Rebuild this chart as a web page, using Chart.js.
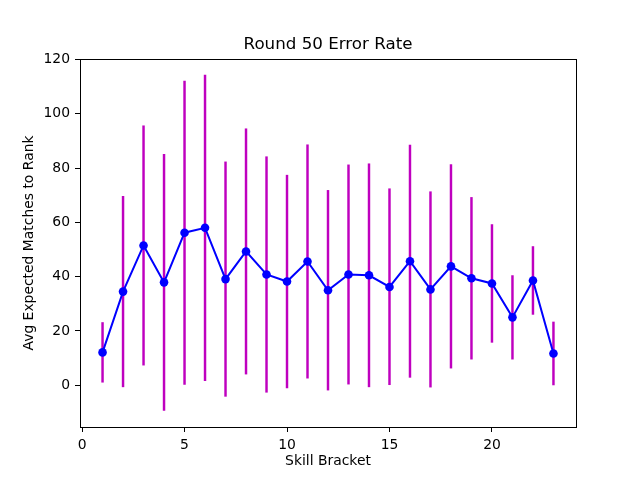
<!DOCTYPE html>
<html>
	<head>
		<meta charset="UTF-8" />
		<title>Round 50 Error Rate</title>
		<style type="text/css">
			body {
				margin: 0;
				background: #ffffff;
			}
			.chartBox {
				width: 640px;
				height: 480px;
			}
		</style>
	</head>
	<body>
		<div class="chartBox">
			<canvas id="myChart" width="640" height="480"></canvas>
		</div>
		<script src="https://cdn.jsdelivr.net/npm/chart.js"></script>
		<script>
			//data
			const brackets = [1, 2, 3, 4, 5, 6, 7, 8, 9, 10, 11, 12, 13, 14, 15, 16, 17, 18, 19, 20, 21, 22, 23];
			const meanMatches = [12.1, 34.5, 51.5, 37.9, 56.2, 58.0, 39.1, 49.3, 40.8, 38.2, 45.6, 35.0, 40.8, 40.5, 36.2, 45.7, 35.3, 43.8, 39.4, 37.5, 25.0, 38.6, 11.7];
			const errMatches = [11.0, 35.1, 44.1, 47.2, 55.9, 56.3, 43.2, 45.2, 43.4, 39.2, 43.0, 36.8, 40.4, 41.1, 36.2, 42.8, 36.0, 37.5, 29.8, 21.7, 15.4, 12.5, 11.6];
			const xTicks = [0, 5, 10, 15, 20];
			const yTicks = [0, 20, 40, 60, 80, 100, 120];

			//setup
			const linePoints = brackets.map((b, i) => ({x: b, y: meanMatches[i]}));
			const errRanges = brackets.map((b, i) => ({x: b, y: [meanMatches[i] - errMatches[i], meanMatches[i] + errMatches[i]]}));

			Chart.defaults.font.family = "'DejaVu Sans', sans-serif";
			Chart.defaults.color = '#000000';

			//frame round the plot area (top and right spines)
			const frame = {
				id: 'frame',
				afterDraw(chart) {
					const {ctx, chartArea: a} = chart;
					ctx.save();
					ctx.strokeStyle = '#000000';
					ctx.lineWidth = 1;
					ctx.strokeRect(Math.round(a.left) + 0.5, Math.round(a.top) + 0.5, Math.round(a.right - a.left), Math.round(a.bottom - a.top));
					ctx.restore();
				}
			};

			const data = {
				datasets: [{
					type: 'line',
					label: 'mean',
					data: linePoints,
					borderColor: '#0000ff',
					backgroundColor: '#0000ff',
					borderWidth: 2,
					pointRadius: 4.3,
					pointBorderWidth: 0,
					pointBackgroundColor: '#0000ff',
					tension: 0,
					fill: false,
					order: 0
				}, {
					type: 'bar',
					label: 'error',
					data: errRanges,
					backgroundColor: '#bf00bf',
					borderWidth: 0,
					barThickness: 1.8,
					grouped: false,
					order: 1
				}]
			};

			//config
			const config = {
				type: 'line',
				data,
				plugins: [frame],
				options: {
					responsive: false,
					devicePixelRatio: 1,
					animation: false,
					layout: {
						padding: {left: 0, right: 64, top: 0, bottom: 0}
					},
					plugins: {
						legend: {display: false},
						tooltip: {enabled: false},
						title: {
							display: true,
							text: 'Round 50 Error Rate',
							fullSize: false,
							font: {size: 16.7, weight: 'normal'},
							padding: {top: 34.5, bottom: 4.5}
						}
					},
					scales: {
						x: {
							type: 'linear',
							min: -0.1,
							max: 24.1,
							offset: false,
							afterBuildTicks: (axis) => { axis.ticks = xTicks.map(v => ({value: v})); },
							afterFit: (axis) => { axis.height = 53; },
							grid: {display: true, offset: false, drawOnChartArea: false, drawTicks: true, tickLength: 5, color: '#000000'},
							border: {display: true, color: '#000000'},
							ticks: {font: {size: 13.9}, padding: 5, maxRotation: 0},
							title: {display: true, text: 'Skill Bracket', font: {size: 13.9}, padding: {top: 0, bottom: 10.5}}
						},
						y: {
							type: 'linear',
							min: -15.4,
							max: 120.2,
							afterBuildTicks: (axis) => { axis.ticks = yTicks.map(v => ({value: v})); },
							afterFit: (axis) => { axis.width = 80; },
							grid: {display: true, offset: false, drawOnChartArea: false, drawTicks: true, tickLength: 5, color: '#000000'},
							border: {display: true, color: '#000000'},
							ticks: {font: {size: 13.9}, padding: 5},
							title: {display: true, text: 'Avg Expected Matches to Rank', font: {size: 13.9}, padding: {top: 21, bottom: 0}}
						}
					}
				}
			};

			//render init
			const myChart = new Chart(
				document.getElementById('myChart'),
				config
			);
		</script>
	</body>
</html>
